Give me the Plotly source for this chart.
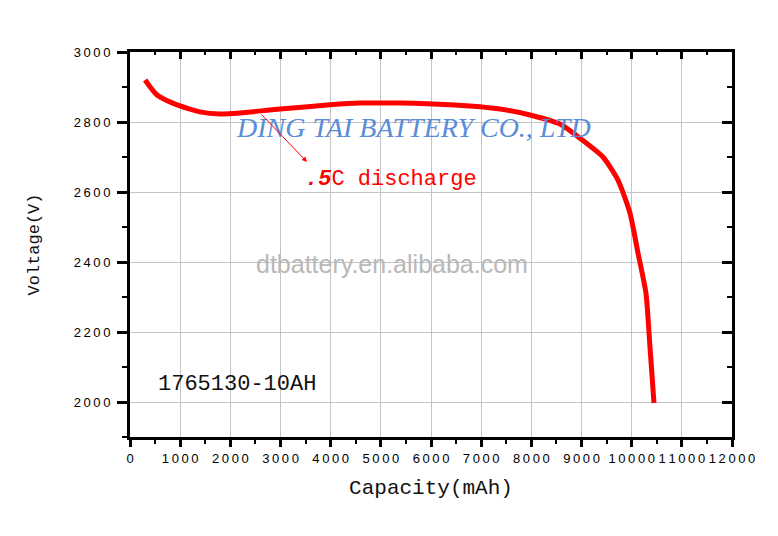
import plotly.graph_objects as go

# Entladekurve
capacity = [300, 540, 900, 1395, 1794, 2193, 2990, 3986, 4585, 5382, 6378, 7375,
            7973, 8571, 9010, 9428, 9727, 9966, 10126, 10285, 10365, 10445]
voltage = [2920, 2877, 2851, 2829, 2823, 2826, 2837, 2849, 2854, 2854, 2849, 2837,
           2820, 2794, 2749, 2700, 2634, 2540, 2426, 2311, 2157, 1997]

x_ticks = [0, 1000, 2000, 3000, 4000, 5000, 6000, 7000, 8000, 9000, 10000, 11000, 12000]
y_ticks = [2000, 2200, 2400, 2600, 2800, 3000]

THIN = "\u2009"


def spaced(v):
    # Ziffern etwas auseinanderziehen wie im Original
    return THIN.join(str(v))


BLACK = "#000000"
GRID = "#c4c4c4"
MONO = "Liberation Mono, Courier New, monospace"
SANS = "Liberation Sans, Arial, sans-serif"

fig = go.Figure()

fig.add_trace(go.Scatter(
    x=capacity, y=voltage,
    mode="lines",
    line=dict(color="#ff0000", width=5, shape="spline", smoothing=0.6),
    hoverinfo="skip",
))

# unsichtbare Spur für die gespiegelten Achsen oben/rechts
fig.add_trace(go.Scatter(
    x=capacity, y=voltage, xaxis="x2", yaxis="y2",
    mode="lines", line=dict(width=0), hoverinfo="skip", showlegend=False,
))

axis_common = dict(
    showline=True, linecolor=BLACK, linewidth=3,
    zeroline=False, tickcolor=BLACK, tickwidth=3,
    tickangle=0,
)

fig.update_layout(
    width=778, height=536,
    showlegend=False,
    plot_bgcolor="white",
    paper_bgcolor="white",
    # Seite hat 8px Rand -> Ränder entsprechend verschoben
    margin=dict(l=122, r=54, t=44, b=107, autoexpand=False),
    xaxis=dict(
        **axis_common,
        range=[0, 12000],
        tickmode="array",
        tickvals=x_ticks,
        ticktext=[spaced(v) for v in x_ticks],
        ticks="outside", ticklen=7,
        tickfont=dict(family=SANS, size=13, color=BLACK),
        showgrid=True, gridcolor=GRID, gridwidth=1,
        minor=dict(dtick=500, tick0=0, ticks="outside", ticklen=4, tickwidth=2,
                   tickcolor=BLACK, showgrid=False),
        title=dict(text="Capacity(mAh)", standoff=15,
                   font=dict(family=MONO, size=21, color="#111111")),
    ),
    yaxis=dict(
        **axis_common,
        range=[1900, 3000],
        tickmode="array",
        tickvals=y_ticks,
        ticktext=[spaced(v) for v in y_ticks],
        ticks="outside", ticklen=10,
        ticklabelstandoff=4,
        tickfont=dict(family=SANS, size=13, color=BLACK),
        showgrid=True, gridcolor=GRID, gridwidth=1,
        minor=dict(dtick=100, tick0=0, ticks="outside", ticklen=5, tickwidth=2,
                   tickcolor=BLACK, showgrid=False),
        title=dict(text="Voltage(V)", standoff=30,
                   font=dict(family=MONO, size=17, color="#111111")),
    ),
    xaxis2=dict(
        **axis_common,
        overlaying="x", side="top", anchor="y2",
        range=[0, 12000], dtick=1000, tick0=0,
        ticks="inside", ticklen=7, showticklabels=False, showgrid=False,
        minor=dict(dtick=500, tick0=0, ticks="inside", ticklen=3, tickwidth=2,
                   tickcolor=BLACK, showgrid=False),
    ),
    yaxis2=dict(
        **axis_common,
        overlaying="y", side="right", anchor="x2",
        range=[1900, 3000], dtick=200, tick0=2000,
        ticks="inside", ticklen=10, showticklabels=False, showgrid=False,
        minor=dict(dtick=100, tick0=0, ticks="inside", ticklen=5, tickwidth=2,
                   tickcolor=BLACK, showgrid=False),
    ),
)

# Wasserzeichen
fig.add_annotation(
    x=5661, y=2783, xref="x", yref="y",
    text="<i>DING TAI BATTERY CO., LTD</i>",
    showarrow=False,
    font=dict(family="Liberation Serif, Times New Roman, serif", size=28, color="#5a8cd8"),
)
fig.add_annotation(
    x=5220, y=2393, xref="x", yref="y",
    text="dtbattery.en.alibaba.com",
    showarrow=False,
    font=dict(family=SANS, size=25, color="#b8b8b8"),
)

# Pfeil und Beschriftung
fig.add_annotation(
    x=3528, y=2686, xref="x", yref="y",
    ax=2591, ay=2826, axref="x", ayref="y",
    text="", showarrow=True,
    arrowhead=2, arrowsize=1, arrowwidth=1, arrowcolor="#ff0000",
)
fig.add_annotation(
    x=5202, y=2637, xref="x", yref="y",
    text="<b><i>.5</i></b>C discharge",
    showarrow=False,
    font=dict(family=MONO, size=22, color="#ff0000"),
)
fig.add_annotation(
    x=2142, y=2049, xref="x", yref="y",
    text="1765130-10AH",
    showarrow=False,
    font=dict(family=MONO, size=22, color="#111111"),
)

fig.write_html("out.html")
